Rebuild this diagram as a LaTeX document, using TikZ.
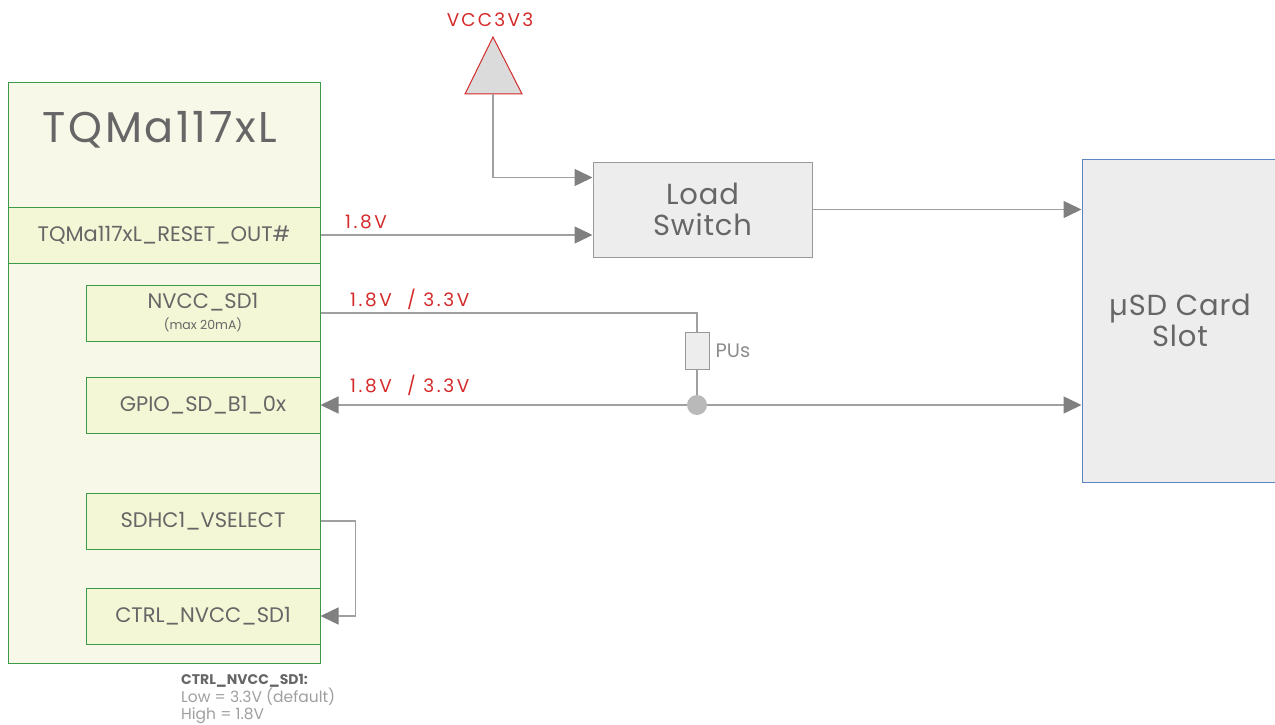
\documentclass[tikz,border=0pt]{standalone}
\usepackage{fontspec}
\setmainfont{Poppins}
\usetikzlibrary{arrows.meta,positioning}
\definecolor{modfill}{HTML}{F7F8E8}
\definecolor{pinfill}{HTML}{F4F7D6}
\definecolor{modline}{HTML}{3A9A48}
\definecolor{txtgray}{HTML}{666666}
\definecolor{wiregray}{HTML}{A0A0A0}
\definecolor{tipgray}{HTML}{808080}
\definecolor{voltred}{HTML}{D42A2A}
\definecolor{boxgray}{HTML}{EDEDED}
\definecolor{slotline}{HTML}{5B86C0}

\begin{document}
\begin{tikzpicture}[x=1pt, y=-1pt,
  pin/.style={rectangle, draw=modline, fill=pinfill, line width=1pt,
              minimum width=234pt, minimum height=56pt, inner sep=0pt,
              text=txtgray, align=center, font=\fontsize{21}{24}\selectfont},
  block/.style={rectangle, draw=gray!80, fill=boxgray, line width=1pt,
                inner sep=0pt, text=txtgray, align=center,
                font=\fontsize{29}{31}\selectfont\addfontfeatures{LetterSpace=3}},
  wire/.style={draw=wiregray, line width=1.5pt},
  arr/.style={wire, -{Triangle[length=18pt,width=17pt,color=tipgray]}},
  volt/.style={text=voltred, inner sep=0pt, anchor=base west,
               font=\fontsize{18.5}{20}\selectfont\addfontfeatures{LetterSpace=14}},
]
  \useasboundingbox (0,0) rectangle (1275,725);

  % Module
  \node[draw=modline, fill=modfill, line width=1pt, minimum width=312pt,
        minimum height=580pt] (mod) at (164,373) {};
  \node[text=txtgray, font=\fontsize{43}{46}\selectfont\addfontfeatures{LetterSpace=6}]
    (modname) at (160,130) {TQMa117xL};
  \node[pin, minimum width=312pt] (rst) at (164,235) {TQMa117xL\_RESET\_OUT\#};
  \node[pin] (nvcc) at (203,313) {NVCC\_SD1\\[-3pt]{\fontsize{12.5}{14}\selectfont (max 20mA)}};
  \node[pin] (gpio) at (203,405) {GPIO\_SD\_B1\_0x};
  \node[pin] (vsel) at (203,521) {SDHC1\_VSELECT};
  \node[pin] (ctrl) at (203,616) {CTRL\_NVCC\_SD1};
  \node[anchor=north west, align=left, inner sep=0pt, text=gray!75,
        font=\fontsize{15.5}{16.5}\selectfont] (note) at (181,674)
    {\textcolor{txtgray}{\fontsize{14}{16.5}\selectfont\textbf{CTRL\_NVCC\_SD1:}}\\Low = 3.3V (default)\\High = 1.8V};

  % Supply
  \node[text=voltred, font=\fontsize{18.5}{20}\selectfont\addfontfeatures{LetterSpace=12}]
    (vcclbl) at (490,20) {VCC3V3};
  \draw[draw=voltred, fill=gray!28, line width=1pt] (493,37) -- (522,94) -- (465,94) -- cycle;
  \coordinate (vcc) at (493,94);

  % Switch and slot
  \node[block, minimum width=219pt, minimum height=95pt] (lsw) at (702.5,209.5) {Load\\Switch};
  \node[block, draw=slotline, minimum width=196pt, minimum height=323pt] (usd) at (1180,320.5)
    {µSD Card\\Slot};

  % Pull-ups
  \node[draw=gray!80, fill=boxgray, line width=1pt, minimum width=24pt,
        minimum height=37pt, inner sep=0pt] (pu) at (697,350.5) {};
  \node[right=6pt of pu, inner sep=0pt, text=gray!90,
        font=\fontsize{19.5}{20}\selectfont] (pulbl) {PUs};
  \coordinate (jn) at (697,405);

  % Connections
  \draw[arr] (vcc) |- ([yshift=32pt]lsw.west);
  \draw[arr] (rst.east) -- (rst.east -| lsw.west);
  \draw[arr] (lsw.east) -- (lsw.east -| usd.west);
  \draw[wire] (nvcc.east) -| (pu.north);
  \draw[wire] (pu.south) -- (jn);
  \draw[arr] (jn) -- (gpio.east);
  \draw[arr] (jn) -- (jn -| usd.west);
  \node[circle, fill=gray!55, minimum size=20pt, inner sep=0pt] (dot) at (jn) {};
  \draw[arr] (vsel.east) -- ++(35,0) |- (ctrl.east);

  % Voltage labels
  \node[volt] (v1) at (345,228) {1.8V};
  \node[volt] (v2) at (350,306) {1.8V\ \ / 3.3V};
  \node[volt] (v3) at (350,392) {1.8V\ \ / 3.3V};
\end{tikzpicture}
\end{document}
